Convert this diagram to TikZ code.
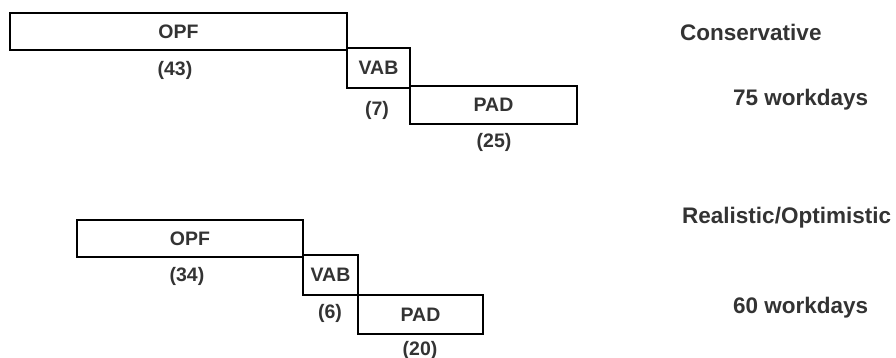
\documentclass[tikz,border=0pt]{standalone}
\usepackage{fontspec}
\setmainfont{Liberation Sans}
\begin{document}
\begin{tikzpicture}[x=1pt,y=-1pt,
  bar/.style={draw=black,line width=1.8pt,rectangle,inner sep=0pt,font=\fontsize{19.5}{19.5}\bfseries,text=black!80},
  dur/.style={inner sep=0pt,font=\fontsize{19.5}{19.5}\bfseries,text=black!80},
  side/.style={inner sep=0pt,anchor=west,font=\fontsize{22.5}{22.5}\bfseries,text=black!80}]
\useasboundingbox (0,0) rectangle (896,358);
% Conservative
\node[bar,minimum width=337pt,minimum height=37pt] (opf1) at (178.5,31.5) {OPF};
\node[bar,minimum width=63pt,minimum height=40pt] (vab1) at (378.5,68) {VAB};
\node[bar,minimum width=167pt,minimum height=38pt] (pad1) at (493.5,105) {PAD};
\node[dur] (d43) at (175,70) {(43)};
\node[dur] (d7) at (377,110) {(7)};
\node[dur] (d25) at (494,142) {(25)};
% Realistic
\node[bar,minimum width=226pt,minimum height=37pt] (opf2) at (190,238.5) {OPF};
\node[bar,minimum width=55pt,minimum height=40pt] (vab2) at (330.5,275) {VAB};
\node[bar,minimum width=125pt,minimum height=39pt] (pad2) at (420.5,314.5) {PAD};
\node[dur] (d34) at (187,276) {(34)};
\node[dur] (d6) at (330,313) {(6)};
\node[dur] (d20) at (420,350) {(20)};
% side texts
\node[side] (cons) at (680,32) {Conservative};
\node[side] (w75) at (733,100) {75 workdays};
\node[side] (real) at (682,218) {Realistic/Optimistic};
\node[side] (w60) at (733,308) {60 workdays};
\end{tikzpicture}
\end{document}
